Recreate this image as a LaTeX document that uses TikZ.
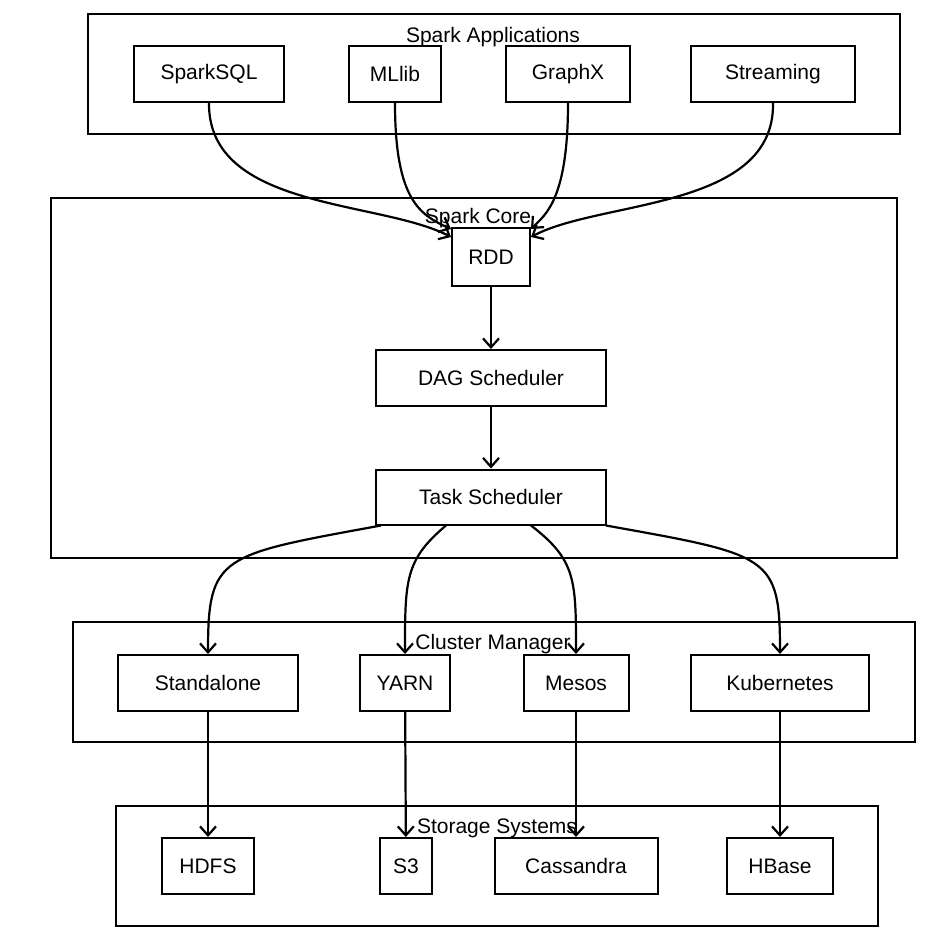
\documentclass[tikz,border=0pt]{standalone}
\usepackage{fontspec}
\setmainfont{Liberation Sans}
\usetikzlibrary{arrows.meta}
\begin{document}
\begin{tikzpicture}[x=1pt, y=-1pt, thick]
\tikzstyle{vertexr}=[rectangle, draw, line width=2pt, inner sep=0pt, font=\fontsize{21}{25}\selectfont]
\tikzstyle{group}=[rectangle, draw, line width=1.8pt, inner sep=0pt]
\tikzstyle{title}=[font=\fontsize{21}{25}\selectfont, inner sep=0pt]
\tikzstyle{drawstyle}=[line width=2.2pt, -{Straight Barb[length=9pt, width=16pt]}]
\useasboundingbox (0,0) rectangle (940,942);

% groups
\node[group, minimum width=812, minimum height=120] (App) at (494,74) {};
\node[title] (AppT) at (493,37) {Spark Applications};
\node[group, minimum width=846, minimum height=360] (Core) at (474,378) {};
\node[title] (CoreT) at (478,218) {Spark Core};
\node[group, minimum width=842, minimum height=120] (Clu) at (494,682) {};
\node[title] (CluT) at (493,644) {Cluster Manager};
\node[group, minimum width=762, minimum height=120] (Sto) at (497,866) {};
\node[title] (StoT) at (497,828) {Storage Systems};

% applications
\node[vertexr, minimum width=150, minimum height=56] (SQL) at (209,74) {SparkSQL};
\node[vertexr, minimum width=92, minimum height=56] (ML) at (395,74) {MLlib};
\node[vertexr, minimum width=124, minimum height=56] (GX) at (568,74) {GraphX};
\node[vertexr, minimum width=164, minimum height=56] (Str) at (773,74) {Streaming};

% core
\node[vertexr, minimum width=78, minimum height=58] (RDD) at (491,257) {RDD};
\node[vertexr, minimum width=230, minimum height=56] (DAG) at (491,378) {DAG Scheduler};
\node[vertexr, minimum width=230, minimum height=55] (Task) at (491,497) {Task Scheduler};

% cluster managers
\node[vertexr, minimum width=180, minimum height=56] (Stand) at (208,683) {Standalone};
\node[vertexr, minimum width=90, minimum height=56] (Yarn) at (405,683) {YARN};
\node[vertexr, minimum width=105, minimum height=56] (Mes) at (576,683) {Mesos};
\node[vertexr, minimum width=178, minimum height=56] (Kub) at (780,683) {Kubernetes};

% storage
\node[vertexr, minimum width=92, minimum height=56] (HDFS) at (208,866) {HDFS};
\node[vertexr, minimum width=52, minimum height=56] (S3) at (406,866) {S3};
\node[vertexr, minimum width=163, minimum height=56] (Cas) at (576,866) {Cassandra};
\node[vertexr, minimum width=106, minimum height=56] (HB) at (780,866) {HBase};

% arrows
\draw[drawstyle] (SQL.south) .. controls (208,210) and (380,200) .. ([yshift=-10]RDD.north west);
\draw[drawstyle] (ML.south) .. controls (395,200) and (420,215) .. ([yshift=-2]RDD.north west);
\draw[drawstyle] (GX.south) .. controls (568,200) and (545,215) .. ([yshift=-2]RDD.north east);
\draw[drawstyle] (Str.south) .. controls (775,210) and (600,200) .. ([yshift=-10]RDD.north east);
\draw[drawstyle] (RDD) -- (DAG);
\draw[drawstyle] (DAG) -- (Task);
\draw[drawstyle] ([xshift=-110]Task.south) .. controls (220,555) and (208,555) .. (Stand.north);
\draw[drawstyle] ([xshift=-45]Task.south) .. controls (405,560) and (405,580) .. (Yarn.north);
\draw[drawstyle] ([xshift=40]Task.south) .. controls (576,560) and (576,580) .. (Mes.north);
\draw[drawstyle] ([xshift=115]Task.south) .. controls (770,555) and (780,555) .. (Kub.north);
\draw[drawstyle] (Stand) -- (HDFS);
\draw[drawstyle] (Yarn) -- (S3);
\draw[drawstyle] (Mes) -- (Cas);
\draw[drawstyle] (Kub) -- (HB);
\end{tikzpicture}
\end{document}
